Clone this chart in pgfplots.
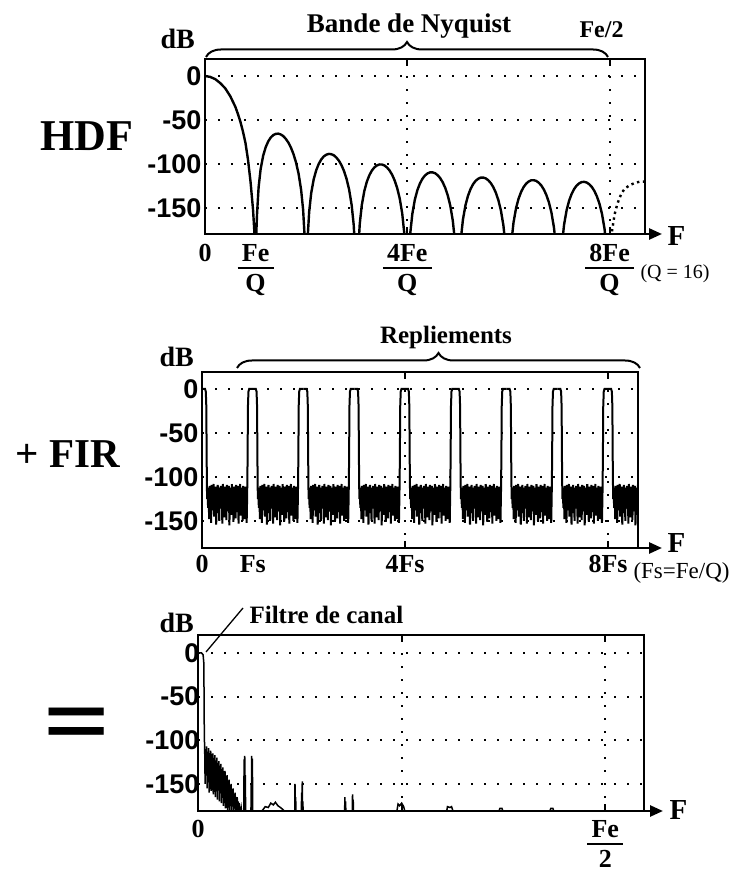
\documentclass[border=0pt]{standalone}
\usepackage{fontspec}
\setmainfont{Liberation Serif}
\newfontfamily\arial{Liberation Sans}
\usepackage{graphicx}
\usepackage{pgfplots}
\pgfplotsset{compat=1.18}
\usepackage{pgfplotstable}
\usetikzlibrary{arrows.meta,decorations.pathreplacing}

\newcommand{\fsz}[1]{\fontsize{#1}{#1}\selectfont}
% stacked fraction with a thick bar
\newcommand{\fr}[2]{{\setlength{\arrayrulewidth}{2pt}\renewcommand{\arraystretch}{0.9}%
  \begin{tabular}[t]{@{\,}c@{\,}}#1\\[-2pt]\hline\rule{0pt}{23pt}#2\end{tabular}}}

% one period of the aliased spectrum (peak at 0 and 1, noise between)
\pgfplotstableread{
x y
0 0
0.06 0
0.075 -3
0.085 -20
0.092 -80
0.1 -125
0.11 -118
0.12 -135
0.13 -112
0.14 -148
0.15 -110
0.16 -130
0.17 -115
0.18 -152
0.19 -109
0.20 -138
0.21 -113
0.22 -127
0.23 -108
0.24 -145
0.25 -116
0.26 -133
0.27 -111
0.28 -154
0.29 -114
0.30 -129
0.31 -109
0.32 -141
0.33 -117
0.34 -150
0.35 -112
0.36 -131
0.37 -110
0.38 -136
0.39 -115
0.40 -153
0.41 -108
0.42 -128
0.43 -113
0.44 -146
0.45 -111
0.46 -134
0.47 -116
0.48 -149
0.49 -109
0.50 -139
0.51 -114
0.52 -126
0.53 -110
0.54 -155
0.55 -117
0.56 -132
0.57 -112
0.58 -143
0.59 -108
0.60 -137
0.61 -115
0.62 -151
0.63 -111
0.64 -129
0.65 -113
0.66 -147
0.67 -109
0.68 -134
0.69 -116
0.70 -140
0.71 -110
0.72 -153
0.73 -114
0.74 -130
0.75 -108
0.76 -144
0.77 -112
0.78 -127
0.79 -117
0.80 -150
0.81 -110
0.82 -135
0.83 -113
0.84 -148
0.85 -111
0.86 -131
0.87 -115
0.88 -152
0.89 -120
0.898 -80
0.905 -20
0.915 -3
0.93 0
1 0
}\pertab

\pgfplotsset{panel/.style={
  scale only axis, axis on top, anchor=south west,
  axis line style={line width=2.6pt},
  xmin=0,
  ytick={0,-50,-100,-150}, yticklabels={0,-50,-100,-150},
  yticklabel style={font=\arial\bfseries\fsz{27}},
  ytick style={draw=none},
  xtick={4,8}, xtick pos=both,
  xtick style={line width=2pt, black},
  major tick length=7pt,
  grid=major,
  grid style={black, line width=2pt, dash pattern=on 2pt off 11pt},
  xticklabel style={font=\bfseries\fsz{26}},
  extra x tick style={grid=none, major tick length=0pt},
}}

\begin{document}
\begin{tikzpicture}[x=1pt,y=1pt]
\useasboundingbox (0,0) rectangle (741,872);

% ---------- HDF ----------
\begin{axis}[panel, at={(205pt,638pt)}, width=440pt, height=175pt,
  xmax=8.70, ymin=-179.5, ymax=19.3,
  xticklabel style={yshift=-7pt},
  xticklabels={{\fr{4Fe}{Q}},{\fr{8Fe}{Q}}},
  extra x ticks={0,1}, extra x tick labels={0,{\fr{Fe}{Q}}}]
\addplot[black, line width=2.4pt] coordinates {
(0,0) (0.1,-1) (0.2,-3.5) (0.3,-8) (0.4,-14) (0.5,-23) (0.6,-35) (0.65,-43) (0.7,-52) (0.75,-63) (0.8,-76) (0.85,-95) (0.9,-120) (0.95,-152) (1,-200)
(1.03,-155.4) (1.06,-126.4) (1.1,-105.8) (1.15,-90.6) (1.2,-80.9) (1.25,-74.3) (1.3,-69.9) (1.35,-67.1) (1.4,-65.8) (1.45,-65.5) (1.5,-66.5) (1.55,-68.4) (1.6,-71.6) (1.65,-75.8) (1.7,-81.5) (1.75,-88.8) (1.8,-98.3) (1.85,-110.9) (1.9,-129.1) (1.94,-151.9) (1.97,-182.7) (2,-200)
(2.03,-183.5) (2.06,-154.1) (2.1,-133.0) (2.15,-117.2) (2.2,-106.9) (2.25,-99.7) (2.3,-94.7) (2.35,-91.3) (2.4,-89.4) (2.45,-88.5) (2.5,-88.9) (2.55,-90.2) (2.6,-92.8) (2.65,-96.4) (2.7,-101.5) (2.75,-108.2) (2.8,-117.1) (2.85,-129.1) (2.9,-146.7) (2.94,-169.0) (2.97,-199.4) (3,-210)
(3.03,-197.6) (3.06,-168.0) (3.1,-146.8) (3.15,-130.7) (3.2,-120.1) (3.25,-112.7) (3.3,-107.4) (3.35,-103.8) (3.4,-101.6) (3.45,-100.5) (3.5,-100.6) (3.55,-101.7) (3.6,-104.0) (3.65,-107.4) (3.7,-112.2) (3.75,-118.7) (3.8,-127.3) (3.85,-139.1) (3.9,-156.4) (3.94,-178.6) (3.97,-208.8) (4,-210)
(4.03,-207.4) (4.06,-177.8) (4.1,-156.5) (4.15,-140.3) (4.2,-129.6) (4.25,-122.1) (4.3,-116.7) (4.35,-113.0) (4.4,-110.7) (4.45,-109.5) (4.5,-109.5) (4.55,-110.5) (4.6,-112.7) (4.65,-116.0) (4.7,-120.7) (4.75,-127.1) (4.8,-135.6) (4.85,-147.3) (4.9,-164.5) (4.94,-186.6) (5,-210)
(5.06,-184.6) (5.1,-163.2) (5.15,-146.9) (5.2,-136.1) (5.25,-128.5) (5.3,-123.0) (5.35,-119.2) (5.4,-116.8) (5.45,-115.5) (5.5,-115.4) (5.55,-116.3) (5.6,-118.4) (5.65,-121.6) (5.7,-126.2) (5.75,-132.5) (5.8,-140.9) (5.85,-152.5) (5.9,-169.6) (5.94,-191.6) (6,-210)
(6.06,-188.0) (6.1,-166.6) (6.15,-150.2) (6.2,-139.4) (6.25,-131.7) (6.3,-126.2) (6.35,-122.3) (6.4,-119.9) (6.45,-118.5) (6.5,-118.4) (6.55,-119.2) (6.6,-121.3) (6.65,-124.4) (6.7,-129.0) (6.75,-135.2) (6.8,-143.6) (6.85,-155.1) (6.9,-172.2) (6.94,-194.1) (7,-210)
(7.06,-190.4) (7.1,-168.9) (7.15,-152.5) (7.2,-141.6) (7.25,-133.9) (7.3,-128.3) (7.35,-124.4) (7.4,-121.9) (7.45,-120.5) (7.5,-120.3) (7.55,-121.1) (7.6,-123.1) (7.65,-126.2) (7.7,-130.7) (7.75,-136.9) (7.8,-145.2) (7.85,-156.7) (7.9,-173.7) (7.94,-195.6) (8,-210)
};
\addplot[black, line width=2.4pt, dash pattern=on 2.4pt off 3.5pt] coordinates {
(8.0,-210) (8.02,-200) (8.05,-175) (8.1,-157) (8.15,-146) (8.2,-138) (8.25,-132) (8.3,-128) (8.4,-124) (8.5,-121.5) (8.6,-120) (8.7,-120)
};
\end{axis}

% ---------- + FIR ----------
\begin{axis}[panel, at={(202pt,324pt)}, width=436pt, height=176pt,
  xmax=8.59, ymin=-180.7, ymax=19.3,
  xticklabel style={yshift=-4pt},
  xticklabels={4Fs,8Fs},
  extra x ticks={0,1}, extra x tick labels={0,Fs}]
\pgfplotsinvokeforeach{0,...,8}{
  \addplot[black, line width=2pt] table[x expr=\thisrow{x}+#1, y=y] {\pertab};
}
\end{axis}

% ---------- = ----------
\begin{axis}[panel, at={(198pt,61pt)}, width=446pt, height=176pt,
  xmax=8.76, ymin=-181, ymax=20.6,
  yticklabel style={xshift=5pt},
  xticklabel style={yshift=-6pt},
  xticklabels={,{\fr{Fe}{2}}},
  extra x ticks={0}, extra x tick labels={0}]
\addplot[black, line width=1.5pt] coordinates {
(0,0) (0.07,0) (0.1,-2) (0.115,-12) (0.12,-60) (0.125,-100)
(0.13,-104) (0.14,-150) (0.15,-110) (0.16,-138) (0.17,-107) (0.18,-155) (0.19,-113) (0.20,-142) (0.21,-109) (0.22,-160) (0.23,-116) (0.24,-145) (0.25,-112) (0.26,-158) (0.27,-118) (0.28,-140) (0.29,-115) (0.30,-162) (0.31,-121) (0.32,-148) (0.33,-117) (0.34,-165) (0.35,-123) (0.36,-150) (0.37,-120) (0.38,-168) (0.39,-126) (0.40,-155) (0.41,-124) (0.42,-170) (0.43,-129) (0.44,-158) (0.45,-127) (0.46,-172) (0.47,-133) (0.48,-162) (0.49,-131) (0.50,-175) (0.51,-137) (0.52,-165) (0.53,-135) (0.54,-178) (0.55,-141) (0.56,-168) (0.57,-140) (0.58,-180) (0.59,-146) (0.60,-170) (0.61,-145) (0.62,-182) (0.63,-151) (0.64,-174) (0.65,-150) (0.66,-182) (0.67,-156) (0.68,-176) (0.69,-155) (0.70,-183) (0.71,-161) (0.72,-178) (0.73,-160) (0.74,-183) (0.75,-166) (0.76,-180) (0.77,-165) (0.78,-183) (0.79,-170) (0.80,-182) (0.81,-172) (0.82,-183) (0.83,-176) (0.84,-183) (0.85,-178) (0.86,-183)
(0.9,-183) (0.905,-122) (0.912,-183) (0.918,-118) (0.925,-183) (0.93,-140) (0.935,-183) (1.0,-183) (1.04,-183) (1.045,-150) (1.05,-183) (1.055,-118) (1.062,-183) (1.068,-121) (1.075,-183) (1.2,-183)
(1.27,-180) (1.32,-176) (1.38,-177) (1.43,-172) (1.48,-174) (1.52,-171) (1.57,-175) (1.62,-177) (1.68,-180) (1.73,-183)
(1.9,-183) (1.905,-150) (1.912,-183) (1.918,-165) (1.925,-183) (2.03,-183) (2.035,-160) (2.042,-183) (2.048,-147) (2.055,-183) (2.06,-170) (2.065,-183)
(2.88,-183) (2.885,-165) (2.892,-183) (2.898,-170) (2.905,-183) (3.03,-183) (3.035,-162) (3.042,-183) (3.048,-168) (3.055,-183)
(3.9,-183) (3.93,-173) (3.96,-175) (4.0,-172) (4.04,-176) (4.07,-183)
(4.88,-183) (4.9,-176) (4.95,-177) (4.98,-176) (5.02,-183)
(5.9,-183) (5.93,-178) (5.97,-178) (6.0,-183)
(6.9,-183) (6.93,-178) (6.97,-178) (7.0,-183) (8.76,-183)
};
\end{axis}

% ---------- annotations ----------
\tikzset{brc/.style={line width=2pt, decorate, decoration={brace, amplitude=15pt}}}
\tikzset{xarr/.style={line width=2.6pt, -{Triangle[length=13pt,width=11pt]}}}

% panel 1
\node[anchor=base west, font=\bfseries\fsz{44}] at (37,721) {HDF};
\node[anchor=base west, font=\bfseries\fsz{28}] at (157,823) {dB};
\draw[brc] (206,815) -- (608,815);
\node[anchor=base, font=\bfseries\fsz{27}] at (409,839) {Bande de Nyquist};
\node[anchor=base west, font=\bfseries\fsz{24}] at (576,834) {Fe/2};
\draw[xarr] (644,638) -- (662,638);
\node[anchor=base west, font=\bfseries\fsz{29}] at (664,626) {F};
\node[anchor=base west, font=\fsz{20}] at (637,593) {(Q = 16)};

% panel 2
\node[anchor=base west, font=\bfseries\fsz{41}] at (12,404) {+ FIR};
\node[anchor=base west, font=\bfseries\fsz{28}] at (156,505) {dB};
\draw[brc] (237,504) -- (640,504);
\node[anchor=base, font=\bfseries\fsz{25}] at (446,528) {Repliements};
\draw[xarr] (638,324) -- (662,324);
\node[anchor=base west, font=\bfseries\fsz{29}] at (664,319) {F};
\node[anchor=base west, font=\fsz{23}] at (630,293) {(Fs=Fe/Q)};

% panel 3
\node[font=\arial\bfseries\fsz{100}] at (77,145) {\scalebox{1.1}[0.72]{=}};
\node[anchor=base west, font=\bfseries\fsz{28}] at (156,239) {dB};
\node[anchor=base west, font=\bfseries\fsz{25}] at (246,248) {Filtre de canal};
\draw[line width=1.3pt] (206,220) -- (243,264);
\draw[xarr] (644,61) -- (663,61);
\node[anchor=base west, font=\bfseries\fsz{29}] at (666,52) {F};
\end{tikzpicture}
\end{document}
